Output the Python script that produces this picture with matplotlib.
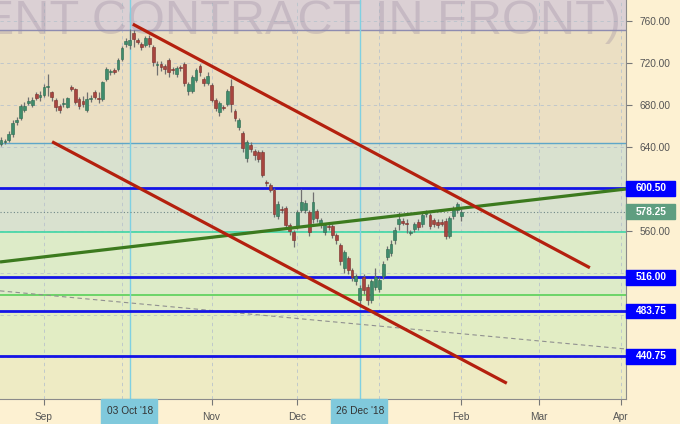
import numpy as np
import matplotlib
matplotlib.use("Agg")
import matplotlib.pyplot as plt
from matplotlib.patches import Rectangle

plt.rcParams['font.family'] = ['Liberation Sans', 'DejaVu Sans']

# OHLC по торговым дням (индекс 0 = 17 Aug '18)
opens = [643, 645, 647, 652, 664, 668, 675, 682, 680, 690, 688, 690, 697, 692, 685, 679, 681, 678, 697, 695,
         686, 684, 675, 686, 692, 687, 686, 705, 711, 713, 714, 724, 738, 737, 749, 742, 738, 737, 744, 735,
         718, 719, 717, 723, 714, 710, 716, 719, 693, 693, 704, 717, 705, 701, 699, 685, 673, 678, 681, 698,
         674, 659, 653, 630, 642, 636, 635, 635, 607, 604, 599, 574, 581, 582, 566, 559, 565, 580, 580, 578,
         571, 579, 566, 559, 565, 565, 556, 547, 525, 534, 523, 512, 494, 516, 507, 494, 507, 505, 517, 535,
         539, 551, 567, 570, 568, 558, 562, 569, 567, 576, 575, 570, 569, 569, 570, 555, 574, 580, 574]
highs = [650, 648, 655, 666, 669, 681, 683, 688, 688, 692, 693, 700, 710, 693, 687, 681, 687, 688, 699, 696,
         688, 689, 692, 690, 694, 692, 703, 716, 714, 715, 725, 736, 744, 752, 751, 744, 740, 746, 747, 737,
         722, 722, 719, 725, 716, 717, 718, 721, 702, 709, 715, 719, 707, 711, 701, 687, 684, 680, 695, 705,
         676, 668, 655, 647, 645, 638, 637, 637, 609, 606, 601, 589, 584, 584, 568, 561, 580, 600, 590, 580,
         597, 581, 572, 568, 567, 567, 558, 549, 542, 536, 525, 519, 509, 519, 510, 514, 525, 516, 531, 546,
         551, 564, 578, 572, 571, 561, 569, 571, 577, 580, 577, 572, 571, 571, 572, 574, 584, 588, 581]
lows = [641, 643, 645, 650, 661, 666, 673, 680, 678, 685, 684, 688, 689, 684, 674, 672, 678, 677, 693, 681,
        676, 678, 673, 683, 686, 682, 684, 703, 709, 710, 712, 722, 735, 733, 735, 738, 732, 735, 735, 717,
        709, 712, 710, 707, 710, 707, 712, 698, 690, 691, 702, 708, 698, 699, 683, 674, 670, 675, 679, 673,
        665, 656, 635, 626, 635, 628, 626, 611, 603, 597, 573, 571, 577, 563, 556, 545, 562, 578, 577, 555,
        568, 569, 563, 556, 561, 553, 548, 528, 520, 519, 512, 509, 488, 500, 490, 491, 504, 502, 514, 532,
        536, 548, 561, 566, 558, 556, 559, 561, 564, 573, 562, 564, 563, 565, 552, 553, 571, 577, 570]
closes = [647, 646, 652, 663, 666, 679, 679, 684, 685, 687, 690, 697, 698, 688, 678, 675, 682, 687, 695, 683,
          679, 681, 686, 687, 688, 686, 702, 714, 712, 711, 723, 734, 741, 742, 743, 740, 735, 744, 738, 721,
          719, 716, 714, 711, 713, 715, 715, 701, 700, 707, 713, 711, 701, 708, 685, 677, 682, 677, 693, 681,
          668, 666, 639, 645, 638, 632, 629, 613, 606, 599, 576, 586, 580, 566, 560, 551, 578, 588, 587, 559,
          588, 572, 570, 566, 564, 556, 551, 531, 540, 523, 516, 517, 506, 504, 494, 512, 516, 513, 529, 543,
          548, 561, 571, 568, 567, 558, 567, 564, 575, 578, 565, 567, 566, 567, 555, 572, 581, 586, 578.25]

# оси
tick_pos = [11, 54, 76, 118, 138, 159]
tick_labels = ['Sep', 'Nov', 'Dec', 'Feb', 'Mar', 'Apr']
month_grid = [11, 31, 54, 76, 97, 118, 138, 159]
marked_days = [33, 92]
marked_labels = ["03 Oct '18", "26 Dec '18"]
price_ticks = [560, 640, 680, 720, 760]

# уровни и линии тренда
levels = [600.50, 516.00, 483.75, 440.75]
last_price = 578.25
upper_x, upper_y = [33.8, 151.0], [757.0, 525.0]
lower_x, lower_y = [13.1, 129.7], [645.0, 415.0]
support_x, support_y = [-0.26, 160.26], [530.5, 600.0]
dash_x, dash_y = [-0.26, 160.26], [503.0, 447.6]

# зоны фона (низ, верх, цвет)
zones = [(751.4, 780, '#dbd0d4'), (643.8, 751.4, '#ebdfc3'), (559, 643.8, '#d9e1cf'),
         (499, 559, '#ddebc8'), (440.75, 499, '#e2edc4'), (400, 440.75, '#eeebc4')]

fig = plt.figure(figsize=(6.8, 4.24), dpi=100, facecolor='#fdf1d2')
ax = fig.add_axes([0, 25 / 424, 626 / 680, 399 / 424])
ax.set_xlim(-0.26, 160.26)
ax.set_ylim(400, 780)

for lo, hi, col in zones:
    ax.axhspan(lo, hi, color=col, zorder=0, lw=0)

for g in np.arange(400, 781, 40):
    ax.axhline(g, color='#b9c3cc', lw=0.6, ls=(0, (4, 4)), zorder=1)
for g in month_grid:
    ax.axvline(g, color='#b9c3cc', lw=0.6, ls=(0, (4, 4)), zorder=1)

ax.text(158.9, 759.5, '(BRENT CONTRACT IN FRONT)', ha='right', va='center', fontsize=35,
        color='#9a8aa0', alpha=0.32, zorder=1, clip_on=True)

ax.axhline(751.4, color='#8e8cb0', lw=1, zorder=2)
ax.axhline(643.8, color='#5ea6c8', lw=1, zorder=2)
ax.axhline(559, color='#3fd6a6', lw=1.2, zorder=2)
ax.axhline(499, color='#58d058', lw=1.2, zorder=2)
for d in marked_days:
    ax.axvline(d, color='#7fd0e2', lw=1, zorder=2)

ax.plot(dash_x, dash_y, color='#909090', lw=0.8, ls=(0, (4, 3)), zorder=2)
ax.axhline(last_price, color='#708888', lw=0.8, ls=(0, (1, 2)), zorder=2)
for lv in levels:
    ax.axhline(lv, color='#1414e6', lw=2, zorder=3)

# свечи
x = np.arange(len(closes))
for i in x:
    o, h, l, c = opens[i], highs[i], lows[i], closes[i]
    up = c >= o
    face = '#3f8c6c' if up else '#a8453f'
    edge = '#2c6a50' if up else '#7a2e2a'
    ax.vlines(i, l, h, color='#707070', lw=0.9, zorder=4)
    ax.bar(i, max(abs(c - o), 0.8), bottom=min(o, c), width=0.72, color=face,
           edgecolor=edge, lw=0.4, zorder=5)

ax.plot(support_x, support_y, color='#3c7a1e', lw=2.3, zorder=6, solid_capstyle='butt')
ax.plot(upper_x, upper_y, color='#b4200e', lw=2.3, zorder=6, solid_capstyle='butt')
ax.plot(lower_x, lower_y, color='#b4200e', lw=2.3, zorder=6, solid_capstyle='butt')

# оформление осей
for s in ['left', 'top']:
    ax.spines[s].set_visible(False)
ax.spines['right'].set_color('#8a8a8a')
ax.spines['bottom'].set_color('#8a8a8a')
ax.yaxis.tick_right()
ax.set_yticks(price_ticks)
ax.set_yticklabels(['%.2f' % p for p in price_ticks])
ax.tick_params(axis='y', length=4, color='#777777', labelsize=7.3, labelcolor='#555555', pad=6)
ax.set_xticks(tick_pos + marked_days)
ax.set_xticklabels(tick_labels + [''] * len(marked_days))
ax.tick_params(axis='x', length=4, color='#777777', labelsize=7.3, labelcolor='#555555', pad=5)

ytr = ax.get_yaxis_transform()
for lv in levels:
    ax.add_patch(Rectangle((1.0, lv - 7.0), 49 / 626, 14.0, transform=ytr, color='#0000ff',
                           clip_on=False, zorder=7))
    ax.text(1.016, lv, '%.2f' % lv, transform=ytr, ha='left', va='center', fontsize=7.3,
            color='white', fontweight='bold', zorder=8, clip_on=False)
ax.add_patch(Rectangle((1.0, last_price - 7.0), 49 / 626, 14.0, transform=ytr, color='#5f9e80',
                       clip_on=False, zorder=7))
ax.text(1.016, last_price, '%.2f' % last_price, transform=ytr, ha='left', va='center', fontsize=7.3,
        color='white', fontweight='bold', zorder=8, clip_on=False)

xtr = ax.get_xaxis_transform()
for d, lab in zip(marked_days, marked_labels):
    ax.add_patch(Rectangle((d - 7.3, -25 / 399), 14.4, 25 / 399, transform=xtr, color='#80c9dc',
                           clip_on=False, zorder=7))
    ax.text(d, -12 / 399, lab, transform=xtr, ha='center', va='center', fontsize=7.3,
            color='#333333', zorder=8, clip_on=False)

fig.savefig('out.png', dpi=100, facecolor=fig.get_facecolor())
